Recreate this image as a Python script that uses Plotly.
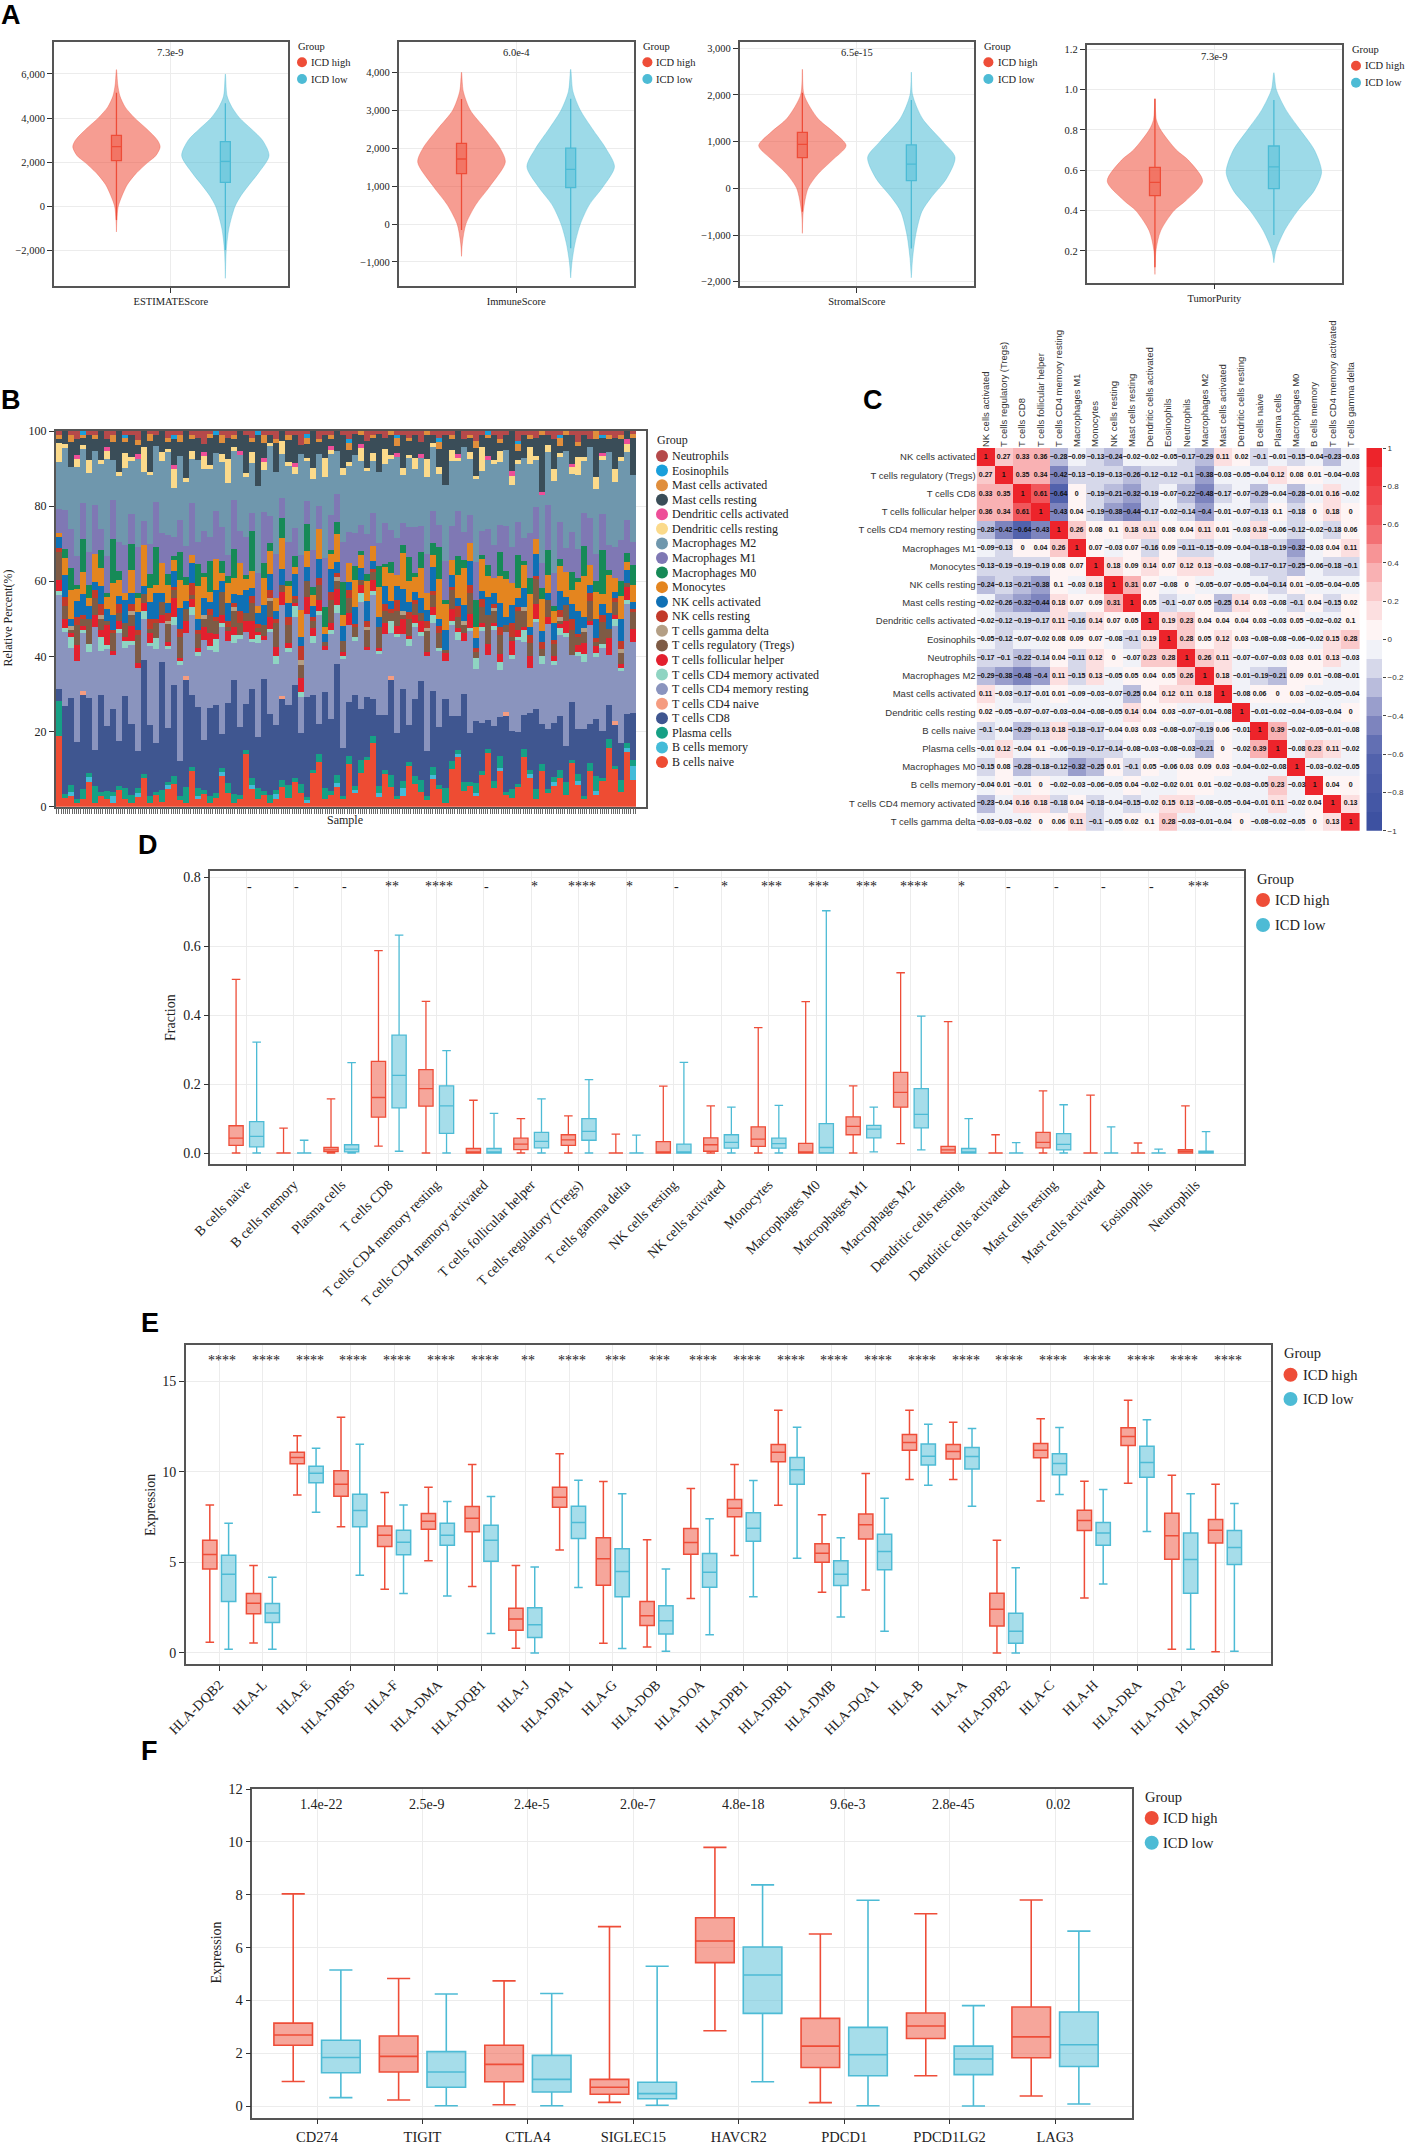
import numpy as np
import plotly.graph_objects as go

W, H = 1406, 2145
SERIF = "Liberation Serif"
SANS = "Liberation Sans"
HI = "rgb(238,77,56)"
LO = "rgb(77,187,213)"
HI_F = "rgba(238,77,56,0.5)"
LO_F = "rgba(77,187,213,0.5)"
GROUPS = ["ICD high", "ICD low"]

# ---------- Panel A: violin outlines (value, relative half width) and box stats
est_hi_v = [6200, 5500, 5000, 4500, 4000, 3500, 3000, 2700, 2300, 2000, 1500, 1000, 500, 0, -600, -1150]
est_hi_w = [0, .03, .08, .2, .42, .7, .94, 1, .9, .72, .45, .25, .13, .04, .01, 0]
est_lo_v = [6000, 5000, 4500, 4000, 3500, 3000, 2300, 1500, 1000, 500, 0, -1000, -2000, -3250]
est_lo_w = [0, .04, .15, .33, .6, .85, 1, .75, .55, .36, .22, .08, .02, 0]
imm_hi_v = [4000, 3500, 3000, 2500, 2000, 1630, 1000, 500, 0, -500, -850]
imm_hi_w = [0, .04, .2, .55, .88, 1, .65, .32, .1, .02, 0]
imm_lo_v = [4080, 3500, 3000, 2500, 2000, 1510, 1000, 500, 0, -500, -1000, -1420]
imm_lo_w = [0, .05, .22, .5, .8, 1, .75, .42, .22, .1, .03, 0]
str_hi_v = [2550, 2000, 1500, 1200, 915, 600, 300, 0, -500, -964]
str_hi_w = [0, .04, .35, .72, 1, .68, .35, .13, .02, 0]
str_lo_v = [2490, 2000, 1500, 1000, 665, 200, -200, -500, -1000, -1500, -1915]
str_lo_w = [0, .03, .25, .72, 1, .8, .45, .24, .1, .03, 0]
pur_hi_v = [.954, .85, .8, .7, .65, .546, .45, .4, .3, .2, .084]
pur_hi_w = [0, .03, .12, .45, .7, 1, .65, .4, .12, .02, 0]
pur_lo_v = [1.083, 1.0, .9, .8, .7, .59, .5, .4, .3, .2, .142]
pur_lo_w = [0, .05, .25, .55, .85, 1, .85, .5, .22, .04, 0]
# lower fence, q1, median, q3, upper fence
est_hi_box = [-611, 2075, 2710, 3223, 5155]
est_lo_box = [-1970, 1094, 2045, 2936, 4672]
imm_hi_box = [-157, 1329, 1715, 2128, 3297]
imm_lo_box = [-640, 960, 1440, 2000, 3300]
str_hi_box = [-500, 657, 943, 1200, 2050]
str_lo_box = [-1290, 165, 520, 929, 1890]
pur_hi_box = [.12, .474, .54, .614, .954]
pur_lo_box = [.279, .509, .617, .72, .948]

# ---------- Panel B: stacked composition
b_naive = [18,2,3,1,2,6,1,3,2,1,4,2,1,2,7,1,3,1,5,6,2,1,9,2,3,1,2,8,4,1,2,14,5,2,3,1,2,6,2,7,3,1,9,12,2,3,5,2,11,4,8,14,17,3,9,5,2,3,12,6,4,2,7,5,1,10,13,4,6,3,8,15,5,9,3,2,6,13,7,2,10,4,5,8,3,12,6,2,9,3,7,14,11,4,13,8]
b_memory = [0,0,1,0,0,1,0,0,0,2,0,0,0,1,0,0,0,0,1,0,0,0,0,1,0,0,0,1,0,0,0,0,1,0,0,0,1,0,0,0,0,1,0,0,0,0,1,0,0,1,0,0,0,1,0,0,0,2,0,0,0,0,1,0,0,0,1,0,0,1,0,0,0,1,0,0,0,0,1,0,0,0,1,0,0,0,1,0,0,1,0,0,0,0,1,4]
plasma = [9,1,2,1,3,1,4,1,2,1,1,3,2,1,1,2,1,3,1,2,1,4,1,2,1,2,1,1,3,2,1,1,2,3,1,2,1,2,3,1,2,1,1,2,3,1,2,1,2,1,3,1,2,2,1,3,1,2,1,2,3,1,2,1,4,2,1,2,1,3,1,1,2,3,1,2,1,2,1,3,2,1,1,2,3,1,2,1,2,4,1,2,1,3,1,2]
t_cd8 = [3,20,24,14,26,18,9,27,16,23,11,25,19,8,28,21,13,30,15,24,10,27,18,22,12,26,20,9,23,28,17,12,25,14,29,21,16,24,18,26,11,30,20,8,25,19,28,13,14,27,12,18,10,21,15,24,17,25,11,20,26,13,19,16,23,12,9,22,14,18,12,8,15,10,20,13,16,9,14,22,11,17,13,15,9,16,12,18,10,15,13,8,12,10,7,14]
t_cd4_naive = [0,0,0,0,1,0,0,0,0,0,0,0,0,0,0,0,0,0,0,0,0,1,0,0,0,0,0,0,0,0,0,0,0,0,0,0,0,1,0,0,0,0,0,0,0,0,0,0,0,0,0,0,0,0,0,1,0,0,0,0,0,0,0,0,0,0,0,0,0,0,0,0,0,0,1,0,0,0,0,0,0,0,0,0,0,0,0,0,0,0,0,0,1,0,0,0]
t_cd4_rest = [24,17,14,20,16,11,30,12,19,15,26,13,21,18,10,23,25,9,22,16,27,11,20,14,24,17,12,28,18,9,22,19,13,26,10,21,15,27,12,19,8,25,14,29,11,22,13,24,20,16,25,14,28,18,22,11,26,15,23,19,12,27,17,21,10,24,20,13,29,15,23,18,26,12,21,16,28,19,11,24,17,30,14,22,27,13,20,18,25,16,23,12,28,19,26,21]
t_cd4_act = [1,1,3,0,1,2,0,4,1,0,1,2,1,0,2,1,3,0,1,2,1,0,2,1,0,1,3,1,0,2,1,0,1,2,0,1,2,0,1,3,1,0,2,1,0,1,2,1,0,1,2,0,1,1,0,3,1,0,2,1,1,0,2,1,0,1,2,0,1,3,1,0,1,2,0,1,1,3,0,1,2,0,1,2,1,0,1,2,0,1,1,0,2,1,1,0]
t_fh = [3,2,1,4,1,0,3,2,5,1,2,1,4,1,2,3,0,2,1,5,1,3,2,1,3,4,1,2,3,2,0,3,5,1,1,3,2,4,1,1,3,5,2,3,1,2,4,1,3,0,2,1,3,1,3,0,2,4,1,2,3,1,2,0,2,3,1,2,4,0,1,3,1,2,0,3,2,1,3,4,0,2,1,1,3,0,2,3,1,2,0,4,1,1,3,4]
t_regs = [7,3,1,5,2,6,4,3,1,5,2,4,3,6,2,1,4,3,5,2,6,3,1,4,2,5,3,6,1,4,3,2,5,1,3,4,6,2,4,1,3,5,2,4,1,6,2,3,4,3,1,5,2,6,3,2,4,1,5,3,2,6,3,4,1,5,3,2,6,2,4,8,3,5,2,1,6,4,3,7,2,5,3,1,4,7,2,3,5,1,6,2,4,3,1,5]
t_gamma = [0,0,1,0,0,0,0,1,0,0,0,0,1,0,0,0,0,0,1,0,0,0,0,0,1,0,0,0,0,1,0,0,0,0,0,1,0,0,0,0,1,0,0,0,0,0,1,0,0,0,0,1,0,0,0,0,0,1,0,0,0,1,0,0,0,0,0,1,0,0,0,0,1,0,0,0,0,1,0,0,0,0,0,1,0,0,0,1,0,0,0,0,0,1,0,0]
nk_rest = [1,2,0,2,1,0,2,3,0,1,2,0,2,1,0,3,1,0,2,1,2,0,3,1,0,2,1,0,2,1,3,0,2,1,0,2,1,0,2,1,3,0,1,2,0,2,1,0,2,1,0,2,1,0,2,1,3,0,2,1,0,2,1,2,0,1,3,0,2,1,2,0,1,2,0,3,1,0,2,1,2,0,1,2,0,3,1,0,2,1,2,0,1,2,0,1]
nk_act = [3,5,2,4,6,3,2,5,3,4,2,6,3,4,2,5,7,2,3,4,6,2,5,3,4,2,6,3,5,2,4,6,2,3,5,4,2,5,3,6,2,4,3,5,2,6,3,4,2,5,3,6,2,3,5,2,4,6,3,2,4,3,6,2,5,3,2,4,7,3,2,5,3,6,2,4,3,5,2,6,3,2,4,5,2,4,6,3,2,5,3,4,2,6,3,2]
mono = [1,4,8,3,6,2,7,5,3,9,4,2,6,3,10,4,2,7,5,3,8,4,2,9,5,3,7,2,6,4,8,3,5,2,7,6,3,9,4,2,6,5,3,8,2,4,7,3,5,8,3,6,4,9,5,7,3,10,6,4,8,5,3,11,7,4,6,9,5,3,8,6,4,7,10,5,3,6,8,4,9,5,3,7,6,4,8,11,5,7,3,9,4,6,2,5]
m0 = [0,2,6,1,9,3,0,5,1,12,2,0,7,1,0,4,10,0,3,1,8,2,0,6,1,9,0,3,2,7,0,1,11,0,4,2,0,6,1,3,0,8,2,0,5,1,3,9,0,4,1,2,0,6,1,3,0,2,7,1,4,0,3,9,1,0,5,2,0,8,1,3,0,6,2,0,10,1,4,0,3,7,1,2,0,5,1,8,0,3,12,1,0,4,2,6]
m1 = [6,9,11,7,10,8,12,6,9,11,7,13,8,10,6,9,12,7,11,5,9,8,13,6,10,7,11,9,6,12,8,10,5,9,13,7,11,6,9,8,12,7,10,6,13,9,7,11,8,10,6,12,9,7,11,8,10,6,9,12,7,11,8,6,10,9,12,7,8,11,6,10,9,7,12,8,10,6,11,9,7,13,8,10,6,11,8,9,12,7,10,6,9,11,8,7]
m2 = [12,14,17,22,15,19,13,18,24,11,16,21,14,19,12,20,15,17,23,13,18,16,11,22,15,20,13,17,21,12,19,16,14,24,11,18,20,13,17,15,22,12,19,14,21,16,11,18,17,23,15,19,14,21,16,18,22,13,20,15,18,22,16,14,20,17,13,21,16,24,15,19,22,16,20,14,18,21,17,13,19,15,22,18,24,16,20,14,18,17,15,22,19,21,16,20]
dc_rest = [5,1,0,2,1,3,0,1,2,0,1,4,1,0,6,1,0,2,1,5,0,1,2,0,3,1,0,2,7,1,0,1,3,0,2,1,0,4,1,2,0,1,3,0,5,1,0,2,1,0,3,1,2,0,4,1,0,2,1,3,0,5,1,2,0,3,1,0,2,1,6,0,1,3,0,2,1,0,4,1,0,2,3,1,0,2,5,1,0,3,1,0,4,1,2,0]
dc_act = [0,0,0,1,0,0,0,0,1,0,0,0,0,1,0,0,0,0,0,1,0,0,0,0,1,0,0,0,0,0,1,0,0,0,1,0,0,0,0,1,0,0,0,0,0,1,0,0,0,0,1,0,0,0,0,0,1,0,0,0,1,0,0,0,0,0,1,0,0,0,0,1,0,0,0,1,0,0,0,0,1,0,0,0,0,1,0,0,0,0,1,0,0,0,1,0]
mast_rest = [1,3,7,4,2,6,3,8,2,5,10,3,6,2,4,9,3,5,2,7,4,12,3,6,2,8,4,3,6,2,5,10,3,14,4,2,7,3,5,8,2,4,10,3,6,2,5,9,3,6,2,8,4,11,3,5,2,9,4,6,3,7,2,5,13,3,6,2,4,8,3,5,7,2,4,9,3,6,2,5,16,3,7,2,4,8,3,6,2,10,4,3,9,5,2,11]
mast_act = [1,0,2,0,1,0,1,0,0,2,0,1,0,1,0,2,0,0,1,0,2,0,1,0,0,1,0,2,0,1,0,0,1,0,2,0,1,0,1,0,0,2,0,1,0,1,0,0,2,0,1,0,1,0,0,1,2,0,1,0,0,1,0,2,0,1,0,0,1,2,0,1,0,1,0,0,2,0,1,0,1,0,0,2,1,0,1,0,0,2,0,1,0,1,0,1]
eos = [0,0,0,0,1,0,0,0,0,0,0,1,0,0,0,0,0,0,0,1,0,0,0,0,0,0,1,0,0,0,0,0,0,1,0,0,0,0,0,0,0,1,0,0,0,0,0,0,1,0,0,0,0,0,0,0,1,0,0,0,0,0,0,1,0,0,0,0,0,0,0,1,0,0,0,0,1,0,0,0,0,0,0,1,0,0,0,0,0,0,1,0,0,0,0,0]
neutro = [1,0,1,2,0,1,1,0,2,1,0,1,1,2,0,1,1,0,2,1,1,0,1,2,3,1,0,1,2,1,0,1,2,0,1,1,2,0,1,1,3,1,0,2,1,1,0,1,2,1,0,3,1,1,2,0,1,1,2,1,3,0,1,2,1,1,0,2,1,3,1,0,1,2,1,0,3,1,1,2,0,1,2,1,0,1,3,1,2,0,1,1,2,1,0,1]

b_names = ["Neutrophils","Eosinophils","Mast cells activated","Mast cells resting","Dendritic cells activated","Dendritic cells resting","Macrophages M2","Macrophages M1","Macrophages M0","Monocytes","NK cells activated","NK cells resting","T cells gamma delta","T cells regulatory (Tregs)","T cells follicular helper","T cells CD4 memory activated","T cells CD4 memory resting","T cells CD4 naive","T cells CD8","Plasma cells","B cells memory","B cells naive"]
b_colors = ["#B5494A","#1A9FDB","#E08E3C","#3A4D58","#EE4E98","#FBDA8B","#6F97AD","#7F78B4","#168A57","#E4851F","#0F70B5","#C23A2A","#B49F85","#7E5B45","#E3202E","#8FD4C2","#8A94BE","#F59C80","#3F5690","#16A085","#44BBD8","#EE4C33"]
b_values = [neutro,eos,mast_act,mast_rest,dc_act,dc_rest,m2,m1,m0,mono,nk_act,nk_rest,t_gamma,t_regs,t_fh,t_cd4_act,t_cd4_rest,t_cd4_naive,t_cd8,plasma,b_memory,b_naive]

# ---------- Panel C: correlation
corr_names = ["NK cells activated","T cells regulatory (Tregs)","T cells CD8","T cells follicular helper","T cells CD4 memory resting","Macrophages M1","Monocytes","NK cells resting","Mast cells resting","Dendritic cells activated","Eosinophils","Neutrophils","Macrophages M2","Mast cells activated","Dendritic cells resting","B cells naive","Plasma cells","Macrophages M0","B cells memory","T cells CD4 memory activated","T cells gamma delta"]
corr = [
[1,.27,.33,.36,-.28,-.09,-.13,-.24,-.02,-.02,-.05,-.17,-.29,.11,.02,-.1,-.01,-.15,-.04,-.23,-.03],
[.27,1,.35,.34,-.42,-.13,-.19,-.13,-.26,-.12,-.12,-.1,-.38,-.03,-.05,-.04,.12,.08,.01,-.04,-.03],
[.33,.35,1,.61,-.64,0,-.19,-.21,-.32,-.19,-.07,-.22,-.48,-.17,-.07,-.29,-.04,-.28,-.01,.16,-.02],
[.36,.34,.61,1,-.43,.04,-.19,-.38,-.44,-.17,-.02,-.14,-.4,-.01,-.07,-.13,.1,-.18,0,.18,0],
[-.28,-.42,-.64,-.43,1,.26,.08,.1,.18,.11,.08,.04,.11,.01,-.03,.18,-.06,-.12,-.02,-.18,.06],
[-.09,-.13,0,.04,.26,1,.07,-.03,.07,-.16,.09,-.11,-.15,-.09,-.04,-.18,-.19,-.32,-.03,.04,.11],
[-.13,-.19,-.19,-.19,.08,.07,1,.18,.09,.14,.07,.12,.13,-.03,-.08,-.17,-.17,-.25,-.06,-.18,-.1],
[-.24,-.13,-.21,-.38,.1,-.03,.18,1,.31,.07,-.08,0,-.05,-.07,-.05,-.04,-.14,.01,-.05,-.04,-.05],
[-.02,-.26,-.32,-.44,.18,.07,.09,.31,1,.05,-.1,-.07,.05,-.25,.14,.03,-.08,-.1,.04,-.15,.02],
[-.02,-.12,-.19,-.17,.11,-.16,.14,.07,.05,1,.19,.23,.04,.04,.04,.03,-.03,.05,-.02,-.02,.1],
[-.05,-.12,-.07,-.02,.08,.09,.07,-.08,-.1,.19,1,.28,.05,.12,.03,-.08,-.08,-.06,-.02,.15,.28],
[-.17,-.1,-.22,-.14,.04,-.11,.12,0,-.07,.23,.28,1,.26,.11,-.07,-.07,-.03,.03,.01,.13,-.03],
[-.29,-.38,-.48,-.4,.11,-.15,.13,-.05,.05,.04,.05,.26,1,.18,-.01,-.19,-.21,.09,.01,-.08,-.01],
[.11,-.03,-.17,-.01,.01,-.09,-.03,-.07,-.25,.04,.12,.11,.18,1,-.08,.06,0,.03,-.02,-.05,-.04],
[.02,-.05,-.07,-.07,-.03,-.04,-.08,-.05,.14,.04,.03,-.07,-.01,-.08,1,-.01,-.02,-.04,-.03,-.04,0],
[-.1,-.04,-.29,-.13,.18,-.18,-.17,-.04,.03,.03,-.08,-.07,-.19,.06,-.01,1,.39,-.02,-.05,-.01,-.08],
[-.01,.12,-.04,.1,-.06,-.19,-.17,-.14,-.08,-.03,-.08,-.03,-.21,0,-.02,.39,1,-.08,.23,.11,-.02],
[-.15,.08,-.28,-.18,-.12,-.32,-.25,.01,-.1,.05,-.06,.03,.09,.03,-.04,-.02,-.08,1,-.03,-.02,-.05],
[-.04,.01,-.01,0,-.02,-.03,-.06,-.05,.04,-.02,-.02,.01,.01,-.02,-.03,-.05,.23,-.03,1,.04,0],
[-.23,-.04,.16,.18,-.18,.04,-.18,-.04,-.15,-.02,.15,.13,-.08,-.05,-.04,-.01,.11,-.02,.04,1,.13],
[-.03,-.03,-.02,0,.06,.11,-.1,-.05,.02,.1,.28,-.03,-.01,-.04,0,-.08,-.02,-.05,0,.13,1],
]
cbar_ticks = [-1, -.8, -.6, -.4, -.2, 0, .2, .4, .6, .8, 1]

# ---------- Panel D
d_cats = ["B cells naive","B cells memory","Plasma cells","T cells CD8","T cells CD4 memory resting","T cells CD4 memory activated","T cells follicular helper","T cells regulatory (Tregs)","T cells gamma delta","NK cells resting","NK cells activated","Monocytes","Macrophages M0","Macrophages M1","Macrophages M2","Dendritic cells resting","Dendritic cells activated","Mast cells resting","Mast cells activated","Eosinophils","Neutrophils"]
d_sig = ["-","-","-","**","****","-","*","****","*","-","*","***","***","***","****","*","-","-","-","-","***"]
d_hi_up = [.504,.072,.157,.587,.44,.153,.1,.108,.055,.194,.137,.364,.439,.195,.523,.381,.053,.18,.168,.029,.137]
d_hi_q3 = [.079,0,.016,.266,.242,.013,.043,.053,0,.033,.044,.076,.028,.105,.234,.019,0,.06,0,0,.01]
d_hi_med = [.043,0,.009,.161,.187,.002,.026,.038,0,0,.024,.04,.002,.077,.176,.009,0,.031,0,0,.005]
d_hi_q1 = [.022,0,.004,.104,.136,0,.01,.022,0,0,.005,.019,0,.053,.133,0,0,.015,0,0,0]
d_hi_lo = [0,0,0,.02,0,0,0,0,0,0,0,0,0,0,.027,0,0,0,0,0,0]
d_lo_up = [.322,.037,.262,.632,.297,.115,.157,.213,.052,.263,.133,.138,.703,.133,.397,.1,.03,.14,.076,.011,.062]
d_lo_q3 = [.091,0,.024,.342,.195,.013,.06,.1,0,.026,.053,.043,.085,.08,.187,.013,0,.056,0,0,.005]
d_lo_med = [.048,0,.011,.225,.137,.002,.034,.063,0,0,.031,.027,.016,.069,.112,.003,0,.025,0,0,.002]
d_lo_q1 = [.018,0,.003,.131,.057,0,.015,.037,0,0,.014,.014,0,.044,.073,0,0,.009,0,0,0]
d_lo_lo = [0,0,0,.005,0,0,0,0,0,0,0,0,0,.003,.009,0,0,0,0,0,0]

# ---------- Panel E
e_cats = ["HLA-DQB2","HLA-L","HLA-E","HLA-DRB5","HLA-F","HLA-DMA","HLA-DQB1","HLA-J","HLA-DPA1","HLA-G","HLA-DOB","HLA-DOA","HLA-DPB1","HLA-DRB1","HLA-DMB","HLA-DQA1","HLA-B","HLA-A","HLA-DPB2","HLA-C","HLA-H","HLA-DRA","HLA-DQA2","HLA-DRB6"]
e_sig = ["****","****","****","****","****","****","****","**","****","***","***","****","****","****","****","****","****","****","****","****","****","****","****","****"]
e_hi_up = [8.18,4.83,12.0,13.03,8.86,9.16,10.41,4.83,11.0,9.47,6.25,9.08,10.41,13.41,7.63,9.91,13.41,12.75,6.23,12.94,9.49,13.97,9.82,9.32]
e_hi_q3 = [6.23,3.28,11.09,10.06,7.02,7.7,8.09,2.47,9.16,6.36,2.84,6.87,8.48,11.52,6.03,7.67,12.07,11.52,3.3,11.57,7.89,12.44,7.72,7.37]
e_hi_med = [5.44,2.75,10.8,9.32,6.5,7.28,7.44,1.88,8.6,5.21,2.06,6.1,8.0,11.09,5.51,7.08,11.63,11.13,2.41,11.2,7.32,11.96,6.47,6.78]
e_hi_q1 = [4.63,2.17,10.45,8.66,5.88,6.84,6.69,1.25,8.05,3.74,1.51,5.45,7.52,10.56,5.01,6.3,11.2,10.72,1.49,10.78,6.76,11.46,5.18,6.08]
e_hi_lo = [.59,.55,8.73,6.97,3.52,5.09,3.67,.26,5.69,.53,.33,3.0,5.38,8.16,3.35,3.48,9.58,9.58,0,8.4,3.04,9.38,.2,.06]
e_lo_up = [7.17,4.18,11.31,11.53,8.18,8.37,8.64,4.75,9.54,8.79,4.63,7.41,9.53,12.47,6.36,8.55,12.64,12.4,4.7,12.46,9.03,12.88,8.79,8.25]
e_lo_q3 = [5.4,2.73,10.32,8.77,6.78,7.17,7.06,2.49,8.11,5.75,2.6,5.49,7.74,10.8,5.09,6.56,11.55,11.35,2.19,11.0,7.2,11.42,6.62,6.76]
e_lo_med = [4.35,2.21,9.93,7.87,6.12,6.5,6.23,1.55,7.2,4.5,1.77,4.46,6.89,10.12,4.35,5.6,10.87,10.85,1.2,10.47,6.62,10.52,5.16,5.82]
e_lo_q1 = [2.84,1.68,9.4,6.97,5.42,5.95,5.07,.85,6.32,3.1,1.05,3.63,6.17,9.32,3.72,4.59,10.39,10.17,.53,9.84,5.95,9.71,3.3,4.88]
e_lo_lo = [.2,.2,7.78,4.29,3.28,3.15,1.07,0,3.61,.24,.09,1.0,3.11,5.23,1.99,1.2,9.27,8.11,0,8.75,3.81,6.71,.2,.09]

# ---------- Panel F
f_cats = ["CD274","TIGIT","CTLA4","SIGLEC15","HAVCR2","PDCD1","PDCD1LG2","LAG3"]
f_p = ["1.4e-22","2.5e-9","2.4e-5","2.0e-7","4.8e-18","9.6e-3","2.8e-45","0.02"]
f_hi_up = [8.03,4.83,4.74,6.79,9.79,6.51,7.28,7.8]
f_hi_q3 = [3.14,2.65,2.3,1.01,7.13,3.32,3.52,3.75]
f_hi_med = [2.69,1.88,1.58,.71,6.25,2.27,3.03,2.62]
f_hi_q1 = [2.3,1.29,.92,.45,5.43,1.46,2.56,1.83]
f_hi_lo = [.93,.23,.05,.14,2.85,.13,1.15,.38]
f_lo_up = [5.15,4.24,4.26,5.29,8.37,7.79,3.8,6.62]
f_lo_q3 = [2.49,2.06,1.92,.9,6.02,2.98,2.27,3.56]
f_lo_med = [1.84,1.29,1.01,.47,4.96,1.94,1.78,2.32]
f_lo_q1 = [1.26,.71,.53,.28,3.51,1.15,1.19,1.5]
f_lo_lo = [.32,.01,.01,.03,.92,.01,0,.08]

# ---------- helpers
fig = go.Figure()
annots, shapes, layout = [], [], {}
GRID = "#ECECEC"
FRAME = "#555555"


def px(x):
    return x / W


def py(y):
    return 1 - y / H


def note(text, x, y, size, family=SERIF, anchor="center", angle=0, color="#222", bold=False):
    annots.append(dict(text=f"<b>{text}</b>" if bold else text, x=px(x), y=py(y), xref="paper", yref="paper",
                       showarrow=False, xanchor=anchor, yanchor="middle", textangle=angle,
                       borderpad=0, font=dict(family=family, size=size, color=color)))


def dot(x, y, r, color):
    shapes.append(dict(type="circle", xref="paper", yref="paper", x0=px(x - r), x1=px(x + r), y0=py(y + r), y1=py(y - r),
                       fillcolor=color, line_width=0))


def legend(gx, cx, tx, gy, ys, names, colors, size, r):
    note("Group", gx, gy, size, anchor="left")
    for y, n, c in zip(ys, names, colors):
        dot(cx, y, r, c)
        note(n, tx, y, size, anchor="left")


def axes(k, xd, yd, xopts, yopts, size):
    base = dict(showline=True, linecolor=FRAME, linewidth=1.5, mirror=True, zeroline=False, showgrid=True,
                gridcolor=GRID, gridwidth=1, ticks="outside", ticklen=5, tickcolor="#333",
                tickfont=dict(family=SERIF, size=size, color="#222"))
    layout[f"xaxis{k}"] = dict(base, domain=[px(xd[0]), px(xd[1])], anchor=f"y{k}", **xopts)
    layout[f"yaxis{k}"] = dict(base, domain=[py(yd[1]), py(yd[0])], anchor=f"x{k}", **yopts)


def violin(k, pos, vals, widths, box, line, fill):
    half = .373
    left = [pos - w * half for w in widths]
    right = [pos + w * half for w in widths]
    fig.add_trace(go.Scatter(x=left + right[::-1], y=vals + vals[::-1], mode="lines", fill="toself",
                             line=dict(color=fill.replace("0.5", "0.35"), width=1, shape="spline", smoothing=.8),
                             fillcolor=fill.replace("0.5", "0.55"), xaxis=f"x{k}", yaxis=f"y{k}",
                             showlegend=False, hoverinfo="skip"))
    fig.add_trace(go.Box(x=[pos], lowerfence=[box[0]], q1=[box[1]], median=[box[2]], q3=[box[3]], upperfence=[box[4]],
                         width=.085, whiskerwidth=0, line=dict(color=line, width=1.3), fillcolor=fill,
                         xaxis=f"x{k}", yaxis=f"y{k}", showlegend=False, boxpoints=False))


def boxes(k, positions, lo, q1, med, q3, up, width, line, fill, lw=1.3):
    fig.add_trace(go.Box(x=positions, lowerfence=lo, q1=q1, median=med, q3=q3, upperfence=up, width=width,
                         whiskerwidth=.6, line=dict(color=line, width=lw), fillcolor=fill,
                         xaxis=f"x{k}", yaxis=f"y{k}", showlegend=False, boxpoints=False))


# ---------- Panel A
panels = [
    (1, (53.8, 288), (41.7, 286), [-3598, 7462], [-2000, 0, 2000, 4000, 6000], "ESTIMATEScore", "7.3e-9",
     est_hi_v, est_hi_w, est_hi_box, est_lo_v, est_lo_w, est_lo_box, (296.6, 302, 310, 46.7, [62.3, 79])),
    (2, (398.7, 633.5), (41.7, 286), [-1633, 4807], [-1000, 0, 1000, 2000, 3000, 4000], "ImmuneScore", "6.0e-4",
     imm_hi_v, imm_hi_w, imm_hi_box, imm_lo_v, imm_lo_w, imm_lo_box, (642, 647.4, 655, 46.7, [62.3, 79])),
    (3, (739.7, 974), (41.7, 286), [-2092, 3141], [-2000, -1000, 0, 1000, 2000, 3000], "StromalScore", "6.5e-15",
     str_hi_v, str_hi_w, str_hi_box, str_lo_v, str_lo_w, str_lo_box, (983, 988.4, 996.5, 46.7, [62.3, 79])),
    (4, (1086.5, 1342.3), (45, 282.7), [.043, 1.22], [.2, .4, .6, .8, 1.0, 1.2], "TumorPurity", "7.3e-9",
     pur_hi_v, pur_hi_w, pur_hi_box, pur_lo_v, pur_lo_w, pur_lo_box, (1351, 1356, 1364, 50, [65.7, 82.7])),
]
for k, xd, yd, yr, yt, label, pval, hv, hw, hb, lv, lw_, lb, lg in panels:
    fmt = ".1f" if k == 4 else ","
    axes(k, xd, yd, dict(range=[-1, 1], tickvals=[0], ticktext=[label]),
         dict(range=yr, tickvals=yt, tickformat=fmt), 10.5)
    violin(k, -.465, hv, hw, hb, HI, HI_F)
    violin(k, .465, lv, lw_, lb, LO, LO_F)
    note(pval, (xd[0] + xd[1]) / 2, yd[0] + 11, 10.5)
    legend(lg[0], lg[1], lg[2], lg[3], lg[4], GROUPS, [HI, LO], 10.5, 5)

# ---------- Panel B
N = len(b_naive)
unit = (635.4 - 55.7) / N
for name, color, vals in reversed(list(zip(b_names, b_colors, b_values))):
    fig.add_trace(go.Bar(x=list(range(len(vals))), y=vals, name=name, marker=dict(color=color, line_width=0),
                         xaxis="x5", yaxis="y5", showlegend=False))
axes(5, (55.7, 646), (431, 806.7),
     dict(range=[-.5, N - .5 + 10.6 / unit], tickvals=list(np.arange(-.35, N - .5, 2.2 / unit)), showticklabels=False,
          showgrid=False, ticklen=6, tickwidth=1, tickcolor="#666"),
     dict(range=[0, 100], tickvals=[0, 20, 40, 60, 80, 100]), 12)
note("Sample", 345.3, 820, 12)
note("Relative Percent(%)", 7.5, 618, 12, angle=-90)
b_ys = [456 + i * 14.57 for i in range(len(b_names))]
legend(655.8, 662, 670.8, 440, b_ys, b_names, b_colors, 12, 6)


# ---------- Panel C
def ramp(v):
    stops = [(-1, (58, 79, 160)), (-.6, (86, 101, 174)), (-.4, (138, 143, 196)), (-.2, (201, 203, 228)), (0, (255, 255, 255)),
             (.2, (251, 213, 214)), (.4, (249, 166, 168)), (.6, (242, 95, 99)), (1, (237, 28, 36))]
    for (a, ca), (b, cb) in zip(stops, stops[1:]):
        if a <= v <= b:
            t = (v - a) / (b - a)
            return "rgb(%d,%d,%d)" % tuple(ca[i] + t * (cb[i] - ca[i]) for i in range(3))


steps = 20
cscale = []
for i in range(steps):
    c = ramp(-1 + 2 * (i + .5) / steps)
    cscale += [[i / steps, c], [(i + 1) / steps, c]]

fig.add_trace(go.Heatmap(z=corr, x=corr_names, y=corr_names, zmin=-1, zmax=1, colorscale=cscale, xaxis="x6", yaxis="y6",
                         texttemplate="%{z}", textfont=dict(family=SANS, size=7, color="#111", weight=700), xgap=0, ygap=0,
                         showscale=False))
layout["xaxis6"] = dict(domain=[px(976.6), px(1360)], anchor="y6", side="top", tickangle=-90, showline=False, showgrid=False,
                        ticks="", zeroline=False, tickfont=dict(family=SANS, size=9.5, color="#333"))
layout["yaxis6"] = dict(domain=[py(830.7), py(448)], anchor="x6", autorange="reversed", showline=False, showgrid=False,
                        ticks="", zeroline=False, tickfont=dict(family=SANS, size=9.5, color="#333"))
key_levels = [-1 + 2 * (i + .5) / steps for i in range(steps)]
fig.add_trace(go.Heatmap(z=[[v] for v in key_levels], x=[0], y=key_levels, zmin=-1, zmax=1, colorscale=cscale,
                         xaxis="x10", yaxis="y10", showscale=False, hoverinfo="skip"))
layout["xaxis10"] = dict(domain=[px(1366.3), px(1382)], anchor="y10", visible=False)
layout["yaxis10"] = dict(domain=[py(830.7), py(448)], anchor="x10", side="right", range=[-1, 1], tickvals=cbar_ticks,
                         tickformat="~g", ticks="outside", ticklen=3, tickcolor="#444", showline=False, showgrid=False,
                         zeroline=False, tickfont=dict(family=SANS, size=8, color="#333"))

# ---------- Panel D
idx = list(range(len(d_cats)))
axes(7, (210.3, 1243.7), (871, 1164.3),
     dict(range=[-.76, 21.01], tickvals=idx, ticktext=d_cats, tickangle=-45),
     dict(range=[-.0328, .8183], tickvals=[0, .2, .4, .6, .8], tickformat=".1f"), 14)
boxes(7, [i - .217 for i in idx], d_hi_lo, d_hi_q1, d_hi_med, d_hi_q3, d_hi_up, .30, HI, HI_F)
boxes(7, [i + .217 for i in idx], d_lo_lo, d_lo_q1, d_lo_med, d_lo_q3, d_lo_up, .30, LO, LO_F)
for i, s in zip(idx, d_sig):
    note(s, 246.4 + i * 47.46 + 3, 887, 14)
note("Fraction", 170, 1018, 14, angle=-90)
legend(1256, 1263, 1274, 879, [900, 925], GROUPS, [HI, LO], 14.5, 7)

# ---------- Panel E
idx = list(range(len(e_cats)))
axes(8, (185.8, 1270.9), (1345.3, 1664.3),
     dict(range=[-.764, 24.05], tickvals=idx, ticktext=e_cats, tickangle=-45),
     dict(range=[-.63, 17.0], tickvals=[0, 5, 10, 15]), 14)
boxes(8, [i - .215 for i in idx], e_hi_lo, e_hi_q1, e_hi_med, e_hi_q3, e_hi_up, .327, HI, HI_F, 1.5)
boxes(8, [i + .215 for i in idx], e_lo_lo, e_lo_q1, e_lo_med, e_lo_q3, e_lo_up, .327, LO, LO_F, 1.5)
for i, s in zip(idx, e_sig):
    note(s, 219.2 + i * 43.73 + 3, 1360, 14)
note("Expression", 150, 1505, 14, angle=-90)
legend(1283.4, 1290.5, 1301.7, 1353, [1374.7, 1399], GROUPS, [HI, LO], 14.5, 7)

# ---------- Panel F
idx = list(range(len(f_cats)))
axes(9, (252.4, 1132), (1789, 2117.7),
     dict(range=[-.613, 7.73], tickvals=idx, ticktext=f_cats),
     dict(range=[-.44, 12], tickvals=[0, 2, 4, 6, 8, 10, 12]), 14.5)
boxes(9, [i - .226 for i in idx], f_hi_lo, f_hi_q1, f_hi_med, f_hi_q3, f_hi_up, .366, HI, HI_F, 1.6)
boxes(9, [i + .226 for i in idx], f_lo_lo, f_lo_q1, f_lo_med, f_lo_q3, f_lo_up, .366, LO, LO_F, 1.6)
for i, s in zip(idx, f_p):
    note(s, 317 + i * 105.4 + 4, 1804, 14)
note("Expression", 216.6, 1953, 14, angle=-90)
legend(1144, 1151.7, 1162, 1797, [1818, 1842.7], GROUPS, [HI, LO], 14.5, 7)

# ---------- Panel letters
for letter, x, y in [("A", 0, 15), ("B", 0, 400), ("C", 862, 400), ("D", 137, 845), ("E", 140, 1323), ("F", 140, 1751)]:
    note(letter, x, y, 27, family=SANS, anchor="left", color="#000", bold=True)

fig.update_layout(width=W, height=H, margin=dict(l=0, r=0, t=0, b=0, autoexpand=False), autosize=False, paper_bgcolor="white",
                  plot_bgcolor="white", barmode="stack", barnorm="percent", bargap=0, boxmode="overlay", showlegend=False,
                  annotations=annots, shapes=shapes, font=dict(family=SERIF), **layout)
fig.write_html("out.html", config=dict(displayModeBar=False), post_script="document.body.style.margin='0';document.documentElement.style.overflow='hidden';")
